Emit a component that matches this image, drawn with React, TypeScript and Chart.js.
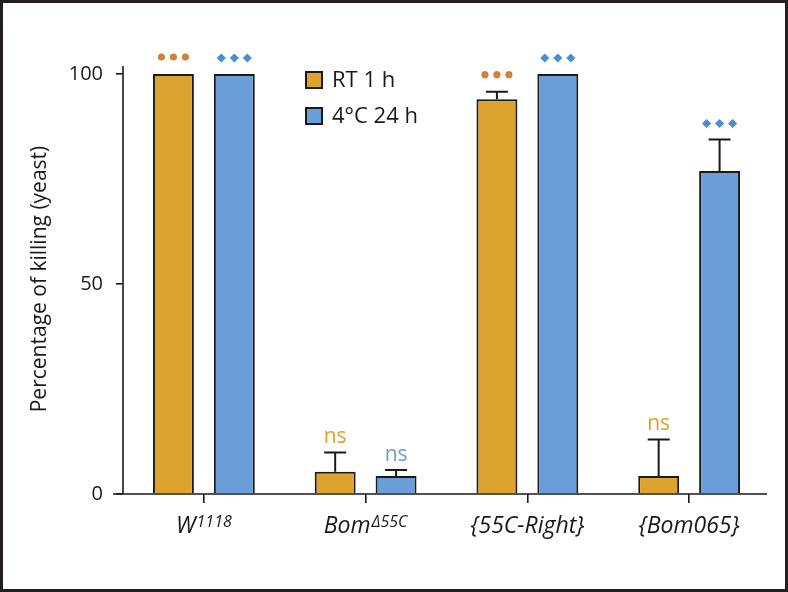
import React, { useEffect, useRef } from 'react';
import { Chart, registerables } from 'chart.js';

Chart.register(...registerables);

const categories = ['W1118', 'BomΔ55C', '{55C-Right}', '{Bom065}'];
const labelBase = ['W', 'Bom', '{55C-Right}', '{Bom065}'];
const labelSup = ['1118', 'Δ55C', '', ''];
const seriesNames = ['RT 1 h', '4°C 24 h'];
const rtValues = [100, 5.3, 94, 4.3];
const rtErrors = [0, 4.6, 1.8, 8.7];
const coldValues = [100, 4.3, 100, 76.9];
const coldErrors = [0, 1.4, 0, 7.5];
const rtMarks = ['dots', 'ns', 'dots', 'ns'];
const coldMarks = ['diamonds', 'ns', 'diamonds', 'diamonds'];
const yTicks = [0, 50, 100];
const yTitle = 'Percentage of killing (yeast)';

const FONT = '"Open Sans", "Noto Sans", sans-serif';
const ORANGE = 'rgb(220,163,46)';
const BLUE = 'rgb(106,158,216)';
const DOT_ORANGE = 'rgb(212,130,58)';
const DIAMOND_BLUE = 'rgb(76,141,212)';
const INK = '#1a1a1a';

const errorsBySeries = [rtErrors, coldErrors];
const valuesBySeries = [rtValues, coldValues];
const marksBySeries = [rtMarks, coldMarks];
const markColors = [DOT_ORANGE, DIAMOND_BLUE];
const nsColors = [ORANGE, BLUE];

const overlayPlugin = {
  id: 'overlay',
  afterDatasetsDraw(chart: any) {
    const ctx = chart.ctx;
    const yScale = chart.scales.y;
    ctx.save();
    chart.data.datasets.forEach((ds: any, di: number) => {
      const meta = chart.getDatasetMeta(di);
      meta.data.forEach((bar: any, i: number) => {
        const v = valuesBySeries[di][i];
        const err = errorsBySeries[di][i];
        let top = bar.y;
        if (err > 0) {
          const et = yScale.getPixelForValue(v + err);
          ctx.strokeStyle = INK;
          ctx.lineWidth = 2;
          ctx.beginPath();
          ctx.moveTo(bar.x, bar.y);
          ctx.lineTo(bar.x, et);
          ctx.moveTo(bar.x - 11, et);
          ctx.lineTo(bar.x + 11, et);
          ctx.stroke();
          top = et;
        }
        const mark = marksBySeries[di][i];
        if (mark === 'ns') {
          ctx.fillStyle = nsColors[di];
          ctx.font = '21px ' + FONT;
          ctx.textAlign = 'center';
          ctx.textBaseline = 'alphabetic';
          ctx.fillText('ns', bar.x, top - 9.5);
        } else if (mark === 'dots') {
          ctx.fillStyle = markColors[di];
          const cy = top - 17;
          for (let k = -1; k <= 1; k++) {
            ctx.beginPath();
            ctx.arc(bar.x + k * 12, cy, 3.6, 0, Math.PI * 2);
            ctx.fill();
          }
        } else if (mark === 'diamonds') {
          ctx.fillStyle = markColors[di];
          const cy = top - 16;
          for (let k = -1; k <= 1; k++) {
            const cx = bar.x + k * 13;
            ctx.beginPath();
            ctx.moveTo(cx, cy - 4.6);
            ctx.lineTo(cx + 4.6, cy);
            ctx.lineTo(cx, cy + 4.6);
            ctx.lineTo(cx - 4.6, cy);
            ctx.closePath();
            ctx.fill();
          }
        }
      });
    });
    ctx.restore();
  },
  afterDraw(chart: any) {
    const ctx = chart.ctx;
    const area = chart.chartArea;
    const xScale = chart.scales.x;
    ctx.save();
    // axes lines
    ctx.strokeStyle = INK;
    ctx.lineWidth = 1.6;
    ctx.beginPath();
    ctx.moveTo(area.left - 10, area.bottom);
    ctx.lineTo(area.right - 3, area.bottom);
    ctx.moveTo(area.left, area.bottom);
    ctx.lineTo(area.left, area.top - 8);
    ctx.stroke();
    // x labels with superscripts
    ctx.fillStyle = INK;
    ctx.textBaseline = 'alphabetic';
    ctx.textAlign = 'left';
    for (let i = 0; i < categories.length; i++) {
      const cx = xScale.getPixelForTick(i);
      ctx.font = 'italic 23px ' + FONT;
      const wBase = ctx.measureText(labelBase[i]).width;
      ctx.font = 'italic 16px ' + FONT;
      const wSup = labelSup[i] ? ctx.measureText(labelSup[i]).width + 1 : 0;
      const start = cx - (wBase + wSup) / 2;
      ctx.font = 'italic 23px ' + FONT;
      ctx.fillText(labelBase[i], start, 533);
      if (labelSup[i]) {
        ctx.font = 'italic 16px ' + FONT;
        ctx.fillText(labelSup[i], start + wBase + 1, 527);
      }
    }
    // y title
    ctx.save();
    ctx.translate(46, 279);
    ctx.rotate(-Math.PI / 2);
    ctx.font = '21px ' + FONT;
    ctx.textAlign = 'center';
    ctx.textBaseline = 'alphabetic';
    ctx.fillText(yTitle, 0, 0);
    ctx.restore();
    // legend
    const fills = [ORANGE, BLUE];
    for (let k = 0; k < seriesNames.length; k++) {
      const cy = 80 + k * 36;
      ctx.fillStyle = fills[k];
      ctx.fillRect(306, cy - 8, 16, 16);
      ctx.strokeStyle = INK;
      ctx.lineWidth = 2;
      ctx.strokeRect(306, cy - 8, 16, 16);
      ctx.fillStyle = INK;
      ctx.font = '22px ' + FONT;
      ctx.textAlign = 'left';
      ctx.textBaseline = 'middle';
      ctx.fillText(seriesNames[k], 332, cy + 1);
    }
    // frame
    ctx.strokeStyle = '#231f20';
    ctx.lineWidth = 3;
    ctx.strokeRect(1.5, 1.5, chart.width - 3, chart.height - 3);
    ctx.restore();
  },
};

export default function App() {
  const ref = useRef<HTMLCanvasElement | null>(null);
  useEffect(() => {
    document.body.style.margin = '0';
    const canvas = ref.current!;
    const chart = new Chart(canvas, {
      type: 'bar',
      data: {
        labels: categories,
        datasets: [
          {
            label: seriesNames[0],
            data: rtValues,
            backgroundColor: ORANGE,
            borderColor: INK,
            borderWidth: 2,
            categoryPercentage: 0.753,
            barPercentage: 0.672,
          },
          {
            label: seriesNames[1],
            data: coldValues,
            backgroundColor: BLUE,
            borderColor: INK,
            borderWidth: 2,
            categoryPercentage: 0.753,
            barPercentage: 0.672,
          },
        ],
      },
      options: {
        responsive: false,
        animation: false,
        devicePixelRatio: 1,
        layout: { padding: { left: 22, top: 74, right: 18, bottom: 0 } },
        plugins: {
          legend: { display: false },
          tooltip: { enabled: false },
          title: { display: false },
        },
        scales: {
          x: {
            type: 'category',
            offset: true,
            border: { display: false },
            grid: {
              display: true,
              offset: false,
              drawOnChartArea: false,
              drawTicks: true,
              tickLength: 9,
              color: INK,
              lineWidth: 1.6,
            },
            ticks: { display: false },
            afterFit(scale: any) {
              scale.height = 98;
            },
          },
          y: {
            min: 0,
            max: 100,
            border: { display: false },
            afterBuildTicks(scale: any) {
              scale.ticks = yTicks.map((v) => ({ value: v }));
            },
            grid: {
              display: true,
              drawOnChartArea: false,
              drawTicks: true,
              tickLength: 7,
              color: INK,
              lineWidth: 1.6,
            },
            ticks: {
              padding: 13,
              color: INK,
              font: { size: 20, family: FONT },
            },
            afterFit(scale: any) {
              scale.width = 101;
            },
          },
        },
      },
      plugins: [overlayPlugin],
    } as any);
    return () => chart.destroy();
  }, []);
  return <canvas ref={ref} width={788} height={592} style={{ display: 'block' }} />;
}
